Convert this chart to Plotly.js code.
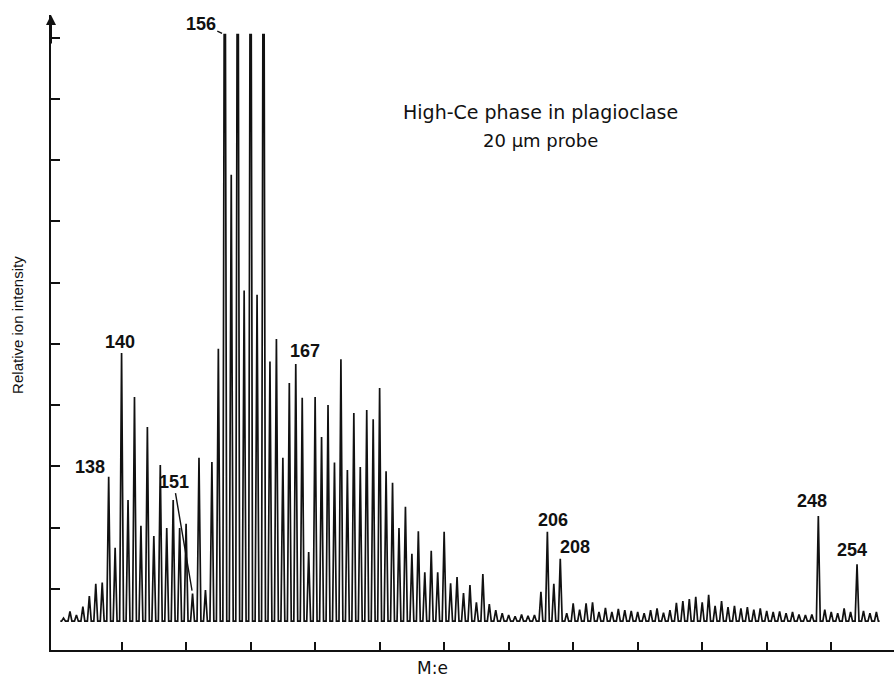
<!DOCTYPE html>
<html>
<head>
<meta charset="utf-8">
<script src="https://cdn.plot.ly/plotly-3.0.1.min.js"></script>
<style>html,body{margin:0;padding:0;background:#fff;}#chart{width:894px;height:680px;}</style>
</head>
<body>
<div id="chart"></div>
<script>
// Mass numbers (M:e) of the recorded peaks
const mass = [
  131,132,133,134,135,136,137,138,139,140,
  141,142,143,144,145,146,147,148,149,150,
  151,152,153,154,155,156,157,158,159,160,
  161,162,163,164,165,166,167,168,169,170,
  171,172,173,174,175,176,177,178,179,180,
  181,182,183,184,185,186,187,188,189,190,
  191,192,193,194,195,196,197,198,199,200,
  201,202,203,204,205,206,207,208,209,210,
  211,212,213,214,215,216,217,218,219,220,
  221,222,223,224,225,226,227,228,229,230,
  231,232,233,234,235,236,237,238,239,240,
  241,242,243,244,245,246,247,248,249,250,
  251,252,253,254,255,256,257
];
// Relative ion intensity at each mass (axis tick units; >=10 = off scale)
const intensity = [
  0.52,0.63,0.57,0.71,0.88,1.08,1.10,2.83,1.67,4.85,
  2.45,4.13,2.03,3.64,1.86,3.02,1.99,2.45,1.99,2.06,
  0.92,3.14,0.98,3.07,4.92,10.05,7.76,10.05,5.87,10.05,
  5.80,10.05,4.71,5.08,3.14,4.36,4.67,4.12,1.60,4.13,
  3.48,4.00,3.06,4.75,2.94,3.87,2.99,3.92,3.77,4.28,
  2.92,2.73,1.99,2.34,1.57,1.94,1.27,1.62,1.27,1.93,
  1.09,1.19,0.93,1.06,0.78,1.24,0.75,0.65,0.60,0.57,
  0.55,0.58,0.56,0.57,0.95,1.93,1.08,1.49,0.60,0.76,
  0.66,0.76,0.78,0.62,0.69,0.62,0.67,0.65,0.64,0.62,
  0.60,0.65,0.68,0.61,0.65,0.77,0.80,0.83,0.87,0.78,
  0.90,0.72,0.80,0.70,0.72,0.68,0.70,0.66,0.68,0.64,
  0.62,0.63,0.60,0.62,0.58,0.57,0.58,2.19,0.66,0.62,
  0.60,0.68,0.62,1.40,0.64,0.60,0.62
];
const baselineLevel = 0.47;
const offScale = 10;
// Labelled peaks
const labelMass = [138,140,151,156,167,206,208,248,254];
const labelText = ["138","140","151","156","167","206","208","248","254"];
// Axis ticks (every 10 mass units; unlabeled in the original)
const xTicks = [140,150,160,170,180,190,200,210,220,230,240,250];
const yTicks = [1,2,3,4,5,6,7,8,9,10];
const titleLine1 = "High-Ce phase in plagioclase";
const titleLine2 = "20 \u03bcm probe";
const xTitle = "M:e";
const yTitle = "Relative ion intensity";

// Build the spectrum trace (each peak drawn as a narrow spike)
const halfWidth = 0.3;
const xs = [mass[0] - 0.5], ys = [baselineLevel];
for (let i = 0; i < mass.length; i++) {
  const m = mass[i], h = intensity[i];
  xs.push(m - halfWidth); ys.push(baselineLevel);
  if (h >= offScale) { xs.push(m - 0.1, m + 0.1); ys.push(h, h); }
  else { xs.push(m); ys.push(h); }
  xs.push(m + halfWidth); ys.push(baselineLevel);
}
xs.push(mass[mass.length - 1] + 0.5); ys.push(baselineLevel);

const trace = {
  type: 'scatter', mode: 'lines', x: xs, y: ys,
  line: {color: '#111', width: 1.7}, hoverinfo: 'skip', showlegend: false
};

function hOf(m) { return intensity[mass.indexOf(m)]; }

// label offsets (pixels) relative to the peak apex
const lblOff = {
  138: {xs: -19, ys: 10, arrow: false},
  140: {xs: -2, ys: 11, arrow: false},
  151: {ax: -19, ay: -112, arrow: true},
  156: {ax: -24, ay: -11, arrow: true},
  167: {xs: 9, ys: 13, arrow: false},
  206: {xs: 6, ys: 12, arrow: false},
  208: {xs: 15, ys: 12, arrow: false},
  248: {xs: -6, ys: 15, arrow: false},
  254: {xs: -5, ys: 14, arrow: false}
};
const lblFont = {family: 'Liberation Sans, Arial, sans-serif', size: 18, color: '#111', weight: 'bold'};
const annotations = labelMass.map((m, i) => {
  const o = lblOff[m];
  const a = {x: m, y: hOf(m), xref: 'x', yref: 'y', text: '<b>' + labelText[i] + '</b>', font: lblFont};
  if (o.arrow) {
    Object.assign(a, {showarrow: true, ax: o.ax, ay: o.ay, arrowhead: 0, arrowwidth: 1.4, arrowcolor: '#111', standoff: 3});
  } else {
    Object.assign(a, {showarrow: false, xshift: o.xs, yshift: o.ys, xanchor: 'center', yanchor: 'middle'});
  }
  return a;
});
const txtFont = {family: 'DejaVu Sans, sans-serif', color: '#111'};
annotations.push(
  {xref: 'paper', yref: 'paper', x: 0.581, y: 0.847, text: titleLine1, showarrow: false,
   xanchor: 'center', yanchor: 'middle', font: Object.assign({}, txtFont, {size: 19})},
  {xref: 'paper', yref: 'paper', x: 0.581, y: 0.803, text: titleLine2, showarrow: false,
   xanchor: 'center', yanchor: 'middle', font: Object.assign({}, txtFont, {size: 18})},
  {xref: 'paper', yref: 'paper', x: 0.452, y: 0, yshift: -18, text: xTitle, showarrow: false,
   xanchor: 'center', yanchor: 'middle', font: Object.assign({}, txtFont, {size: 17})},
  {xref: 'paper', yref: 'paper', x: 0, xshift: -33, y: 0.512, text: yTitle, textangle: -90, showarrow: false,
   xanchor: 'center', yanchor: 'middle', font: {family: 'Liberation Sans, Arial, sans-serif', size: 15, color: '#111'}},
  {xref: 'paper', yref: 'paper', x: 0, y: 1, ax: 0, ay: 30, text: '', showarrow: true,
   arrowhead: 2, arrowsize: 1, arrowwidth: 2, arrowcolor: '#111', standoff: 0}
);

const layout = {
  width: 894, height: 680,
  margin: {l: 51, r: 0, t: 15, b: 30},
  paper_bgcolor: '#fff', plot_bgcolor: '#fff',
  showlegend: false,
  xaxis: {range: [129.06, 259.73], showgrid: false, zeroline: false, showline: true,
          linecolor: '#111', linewidth: 2, ticks: 'inside', ticklen: 8, tickwidth: 2,
          tickcolor: '#111', tickmode: 'array', tickvals: xTicks, showticklabels: false},
  yaxis: {range: [0, 10.37], showgrid: false, zeroline: false, showline: true,
          linecolor: '#111', linewidth: 2, ticks: 'inside', ticklen: 9, tickwidth: 2,
          tickcolor: '#111', tickmode: 'array', tickvals: yTicks, showticklabels: false},
  annotations: annotations
};

Plotly.newPlot('chart', [trace], layout, {staticPlot: true, displayModeBar: false});
</script>
</body>
</html>
